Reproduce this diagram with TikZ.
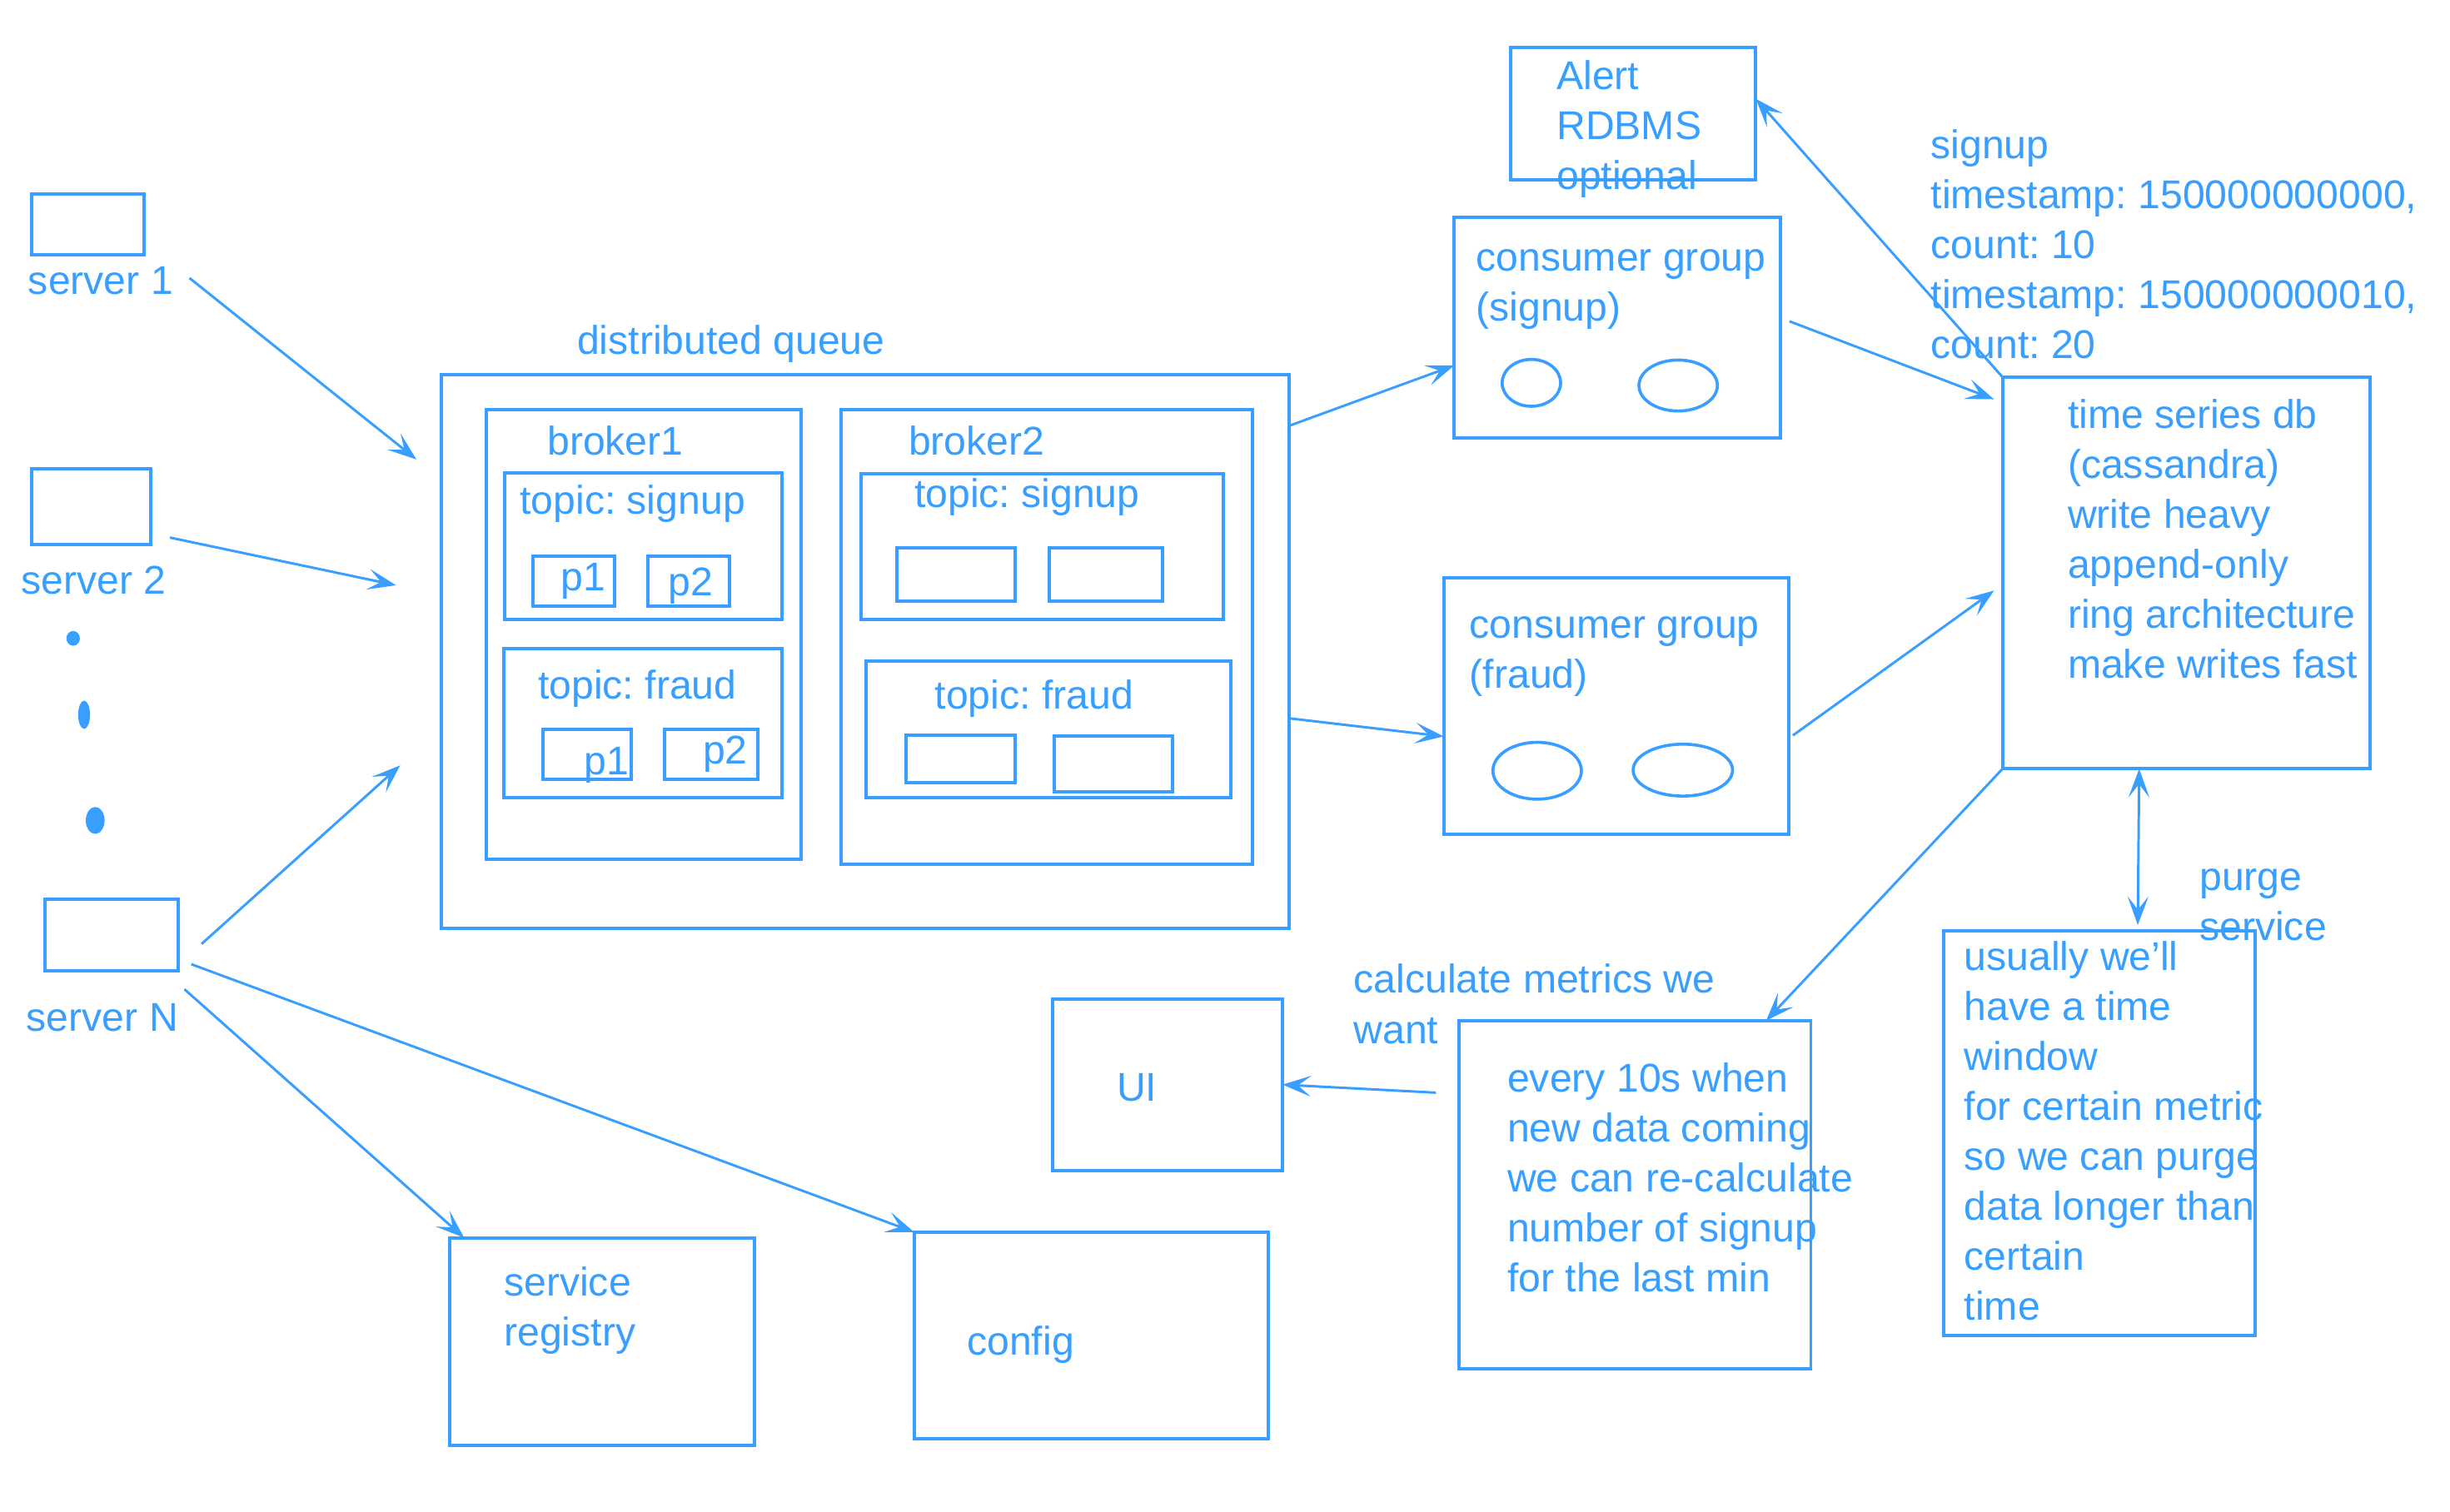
\documentclass[tikz,border=0pt]{standalone}
\usepackage{fontspec}
\usepackage{tikz}
\usetikzlibrary{arrows.meta,shapes.geometric}
\setmainfont{Liberation Sans}
\frenchspacing
\definecolor{qblue}{RGB}{56,158,255}
\newcommand{\dfont}{\fontsize{7.3}{9.1}\selectfont}
\tikzset{
    plain-box/.style = {draw=qblue, line width=0.6pt, rectangle, inner sep=0pt, outer sep=0pt, anchor=north west},
    part-oval/.style = {draw=qblue, line width=0.55pt, ellipse, inner sep=0pt, outer sep=0pt},
    server-dot/.style = {fill=qblue, ellipse, inner sep=0pt},
    tag-text/.style = {text=qblue, font=\dfont, inner sep=0pt, anchor=base west},
    block-text/.style = {text=qblue, font=\dfont, inner sep=0pt, anchor=north west, align=left},
    flow/.style = {draw=qblue, line width=0.45pt, -{Stealth[length=5.2pt, width=3.8pt, inset=2.4pt]}},
    both-flow/.style = {draw=qblue, line width=0.45pt, {Stealth[length=5.2pt, width=3.8pt, inset=2.4pt]}-{Stealth[length=5.2pt, width=3.8pt, inset=2.4pt]}},
}

\begin{document}
\begin{tikzpicture}[x=0.1mm, y=-0.1mm]
\useasboundingbox (0,0) rectangle (1567.4,967.5);

% servers
\node [plain-box, minimum width=7.23mm, minimum height=3.87mm] (s1) at (20.1,124.3) {};
\node [plain-box, minimum width=7.61mm, minimum height=4.85mm] (s2) at (20.1,299.8) {};
\node [plain-box, minimum width=8.52mm, minimum height=4.55mm] (sN) at (28.8,575.5) {};
\node [tag-text] (s1-lbl) at (17.4,188.4) {server 1};
\node [tag-text] (s2-lbl) at (13,380) {server 2};
\node [tag-text] (sN-lbl) at (16.3,660) {server N};
\node [server-dot, minimum width=0.86mm, minimum height=0.94mm] (dot1) at (46.8,408.5) {};
\node [server-dot, minimum width=0.76mm, minimum height=1.8mm] (dot2) at (53.8,457.4) {};
\node [server-dot, minimum width=1.2mm, minimum height=1.72mm] (dot3) at (60.9,525) {};

% distributed queue
\node [tag-text] (queue-lbl) at (368.6,226.7) {distributed queue};
\node [plain-box, minimum width=54.26mm, minimum height=35.42mm] (queue) at (282.2,239.6) {};
\node [plain-box, minimum width=20.17mm, minimum height=28.77mm] (b1) at (311,262.3) {};
\node [tag-text] (b1-lbl) at (349.5,291.2) {broker1};
\node [plain-box, minimum width=17.72mm, minimum height=9.38mm] (b1-sig) at (323,302.6) {};
\node [tag-text] (b1-sig-lbl) at (332,329) {topic: signup};
\node [plain-box, minimum width=5.22mm, minimum height=3.21mm] (b1-sp1) at (340.9,355.7) {};
\node [plain-box, minimum width=5.22mm, minimum height=3.21mm] (b1-sp2) at (414.3,355.7) {};
\node [tag-text] (b1-sp1-lbl) at (358,378) {p1};
\node [tag-text] (b1-sp2-lbl) at (427,381) {p2};
\node [plain-box, minimum width=17.78mm, minimum height=9.57mm] (b1-fr) at (322.4,414.8) {};
\node [tag-text] (b1-fr-lbl) at (343.6,447.5) {topic: fraud};
\node [plain-box, minimum width=5.66mm, minimum height=3.21mm] (b1-fp1) at (347.4,466.7) {};
\node [plain-box, minimum width=5.98mm, minimum height=3.21mm] (b1-fp2) at (425.2,466.7) {};
\node [tag-text] (b1-fp1-lbl) at (373,495.6) {p1};
\node [tag-text] (b1-fp2-lbl) at (449,488.6) {p2};
\node [plain-box, minimum width=26.31mm, minimum height=29.07mm] (b2) at (538.3,262.3) {};
\node [tag-text] (b2-lbl) at (580.6,291) {broker2};
\node [plain-box, minimum width=23.16mm, minimum height=9.31mm] (b2-sig) at (550.8,303.3) {};
\node [tag-text] (b2-sig-lbl) at (584.4,325) {topic: signup};
\node [plain-box, minimum width=7.56mm, minimum height=3.41mm] (b2-sp1) at (573.6,350.6) {};
\node [plain-box, minimum width=7.23mm, minimum height=3.41mm] (b2-sp2) at (671.5,350.6) {};
\node [plain-box, minimum width=23.33mm, minimum height=8.75mm] (b2-fr) at (554,423) {};
\node [tag-text] (b2-fr-lbl) at (597.4,453.4) {topic: fraud};
\node [plain-box, minimum width=6.96mm, minimum height=3.04mm] (b2-fp1) at (579.6,470.3) {};
\node [plain-box, minimum width=7.56mm, minimum height=3.56mm] (b2-fp2) at (674.7,471) {};

% consumers, alert, storage
\node [plain-box, minimum width=15.69mm, minimum height=8.46mm] (alert) at (966.4,30.6) {};
\node [block-text] (alert-txt) at (995.2,34.2) {\strut Alert\\RDBMS\\optional};
\node [plain-box, minimum width=20.84mm, minimum height=14.1mm] (cgs) at (930.4,139.3) {};
\node [block-text] (cgs-txt) at (943.6,150.1) {\strut consumer group\\(signup)};
\node [part-oval, minimum width=3.74mm, minimum height=3mm] (cgs-o1) at (979.7,245) {};
\node [part-oval, minimum width=5.02mm, minimum height=3.26mm] (cgs-o2) at (1073.6,246.7) {};
\node [plain-box, minimum width=22.09mm, minimum height=16.43mm] (cgf) at (923.6,369.6) {};
\node [block-text] (cgf-txt) at (939.5,385.3) {\strut consumer group\\(fraud)};
\node [part-oval, minimum width=5.66mm, minimum height=3.64mm] (cgf-o1) at (983.4,493.2) {};
\node [part-oval, minimum width=6.36mm, minimum height=3.32mm] (cgf-o2) at (1076.6,492.8) {};
\node [block-text] (record-txt) at (1234.6,78.4) {\strut signup\\timestamp: 150000000000,\\count: 10\\timestamp: 150000000010,\\count: 20};
\node [plain-box, minimum width=23.49mm, minimum height=25.07mm] (tsdb) at (1281.1,241.3) {};
\node [block-text] (tsdb-txt) at (1322.2,251) {\strut time series db\\(cassandra)\\write heavy\\append-only\\ring architecture\\make writes fast};
\node [block-text] (purge-lbl) at (1406.5,546.5) {\strut purge\\service};
\node [plain-box, minimum width=19.89mm, minimum height=25.86mm] (purge) at (1243.7,595.9) {};
\node [block-text] (purge-txt) at (1256,597.7) {\strut usually we’ll\\have a time\\window\\for certain metric\\so we can purge\\data longer than\\certain\\time};
\node [block-text] (calc-lbl) at (865.4,612.5) {\strut calculate metrics we\\want};
\node [plain-box, minimum width=22.5mm, minimum height=22.25mm] (calc) at (933.5,653.2) {};
\node [block-text] (calc-txt) at (963.7,675.8) {\strut every 10s when\\new data coming\\we can re-calculate\\number of signup\\for the last min};
\node [plain-box, minimum width=14.69mm, minimum height=10.99mm] (ui) at (673.6,639.1) {};
\node [tag-text] (ui-lbl) at (713.8,704.6) {UI};
\node [plain-box, minimum width=19.51mm, minimum height=13.3mm] (reg) at (287.6,792) {};
\node [block-text] (reg-txt) at (321.8,806.3) {\strut service\\registry};
\node [plain-box, minimum width=22.66mm, minimum height=13.21mm] (cfg) at (585,788.5) {};
\node [tag-text] (cfg-lbl) at (618,867) {config};

% free ends
\coordinate (s1-out) at (121.2,177.9);
\coordinate (s1-in) at (266.4,294);
\coordinate (s2-out) at (108.7,344);
\coordinate (s2-in) at (253.4,374.5);
\coordinate (sN-out) at (129,604);
\coordinate (sN-in) at (256,489.8);
\coordinate (sN-reg) at (118,633);
\coordinate (sN-cfg) at (122.4,617);
\coordinate (cgs-out) at (1144.8,205.6);
\coordinate (cgs-in) at (1275.7,255.5);
\coordinate (cgf-out) at (1147,470.6);
\coordinate (cgf-in) at (1275.7,377.9);
\coordinate (calc-out) at (918.7,699.2);

\draw [flow] (s1-out) -- (s1-in);
\draw [flow] (s2-out) -- (s2-in);
\draw [flow] (sN-out) -- (sN-in);
\draw [flow] (sN-reg) -- (reg.143.9);
\draw [flow] (sN-cfg) -- (cfg.north west);
\draw [flow] (queue.28) -- (cgs.193.4);
\draw [flow] (queue.-9.2) -- (cgf.190);
\draw [flow] (cgs-out) -- (cgs-in);
\draw [flow] (cgf-out) -- (cgf-in);
\draw [flow] (tsdb.north west) -- (alert.7.3);
\draw [flow] (tsdb.south west) -- (calc.53.1);
\draw [both-flow] ([xshift=-3mm]tsdb.south) -- ([xshift=2.45mm, yshift=0.4mm]purge.north);
\draw [flow] (calc-out) -- (ui.east);
\end{tikzpicture}
\end{document}
